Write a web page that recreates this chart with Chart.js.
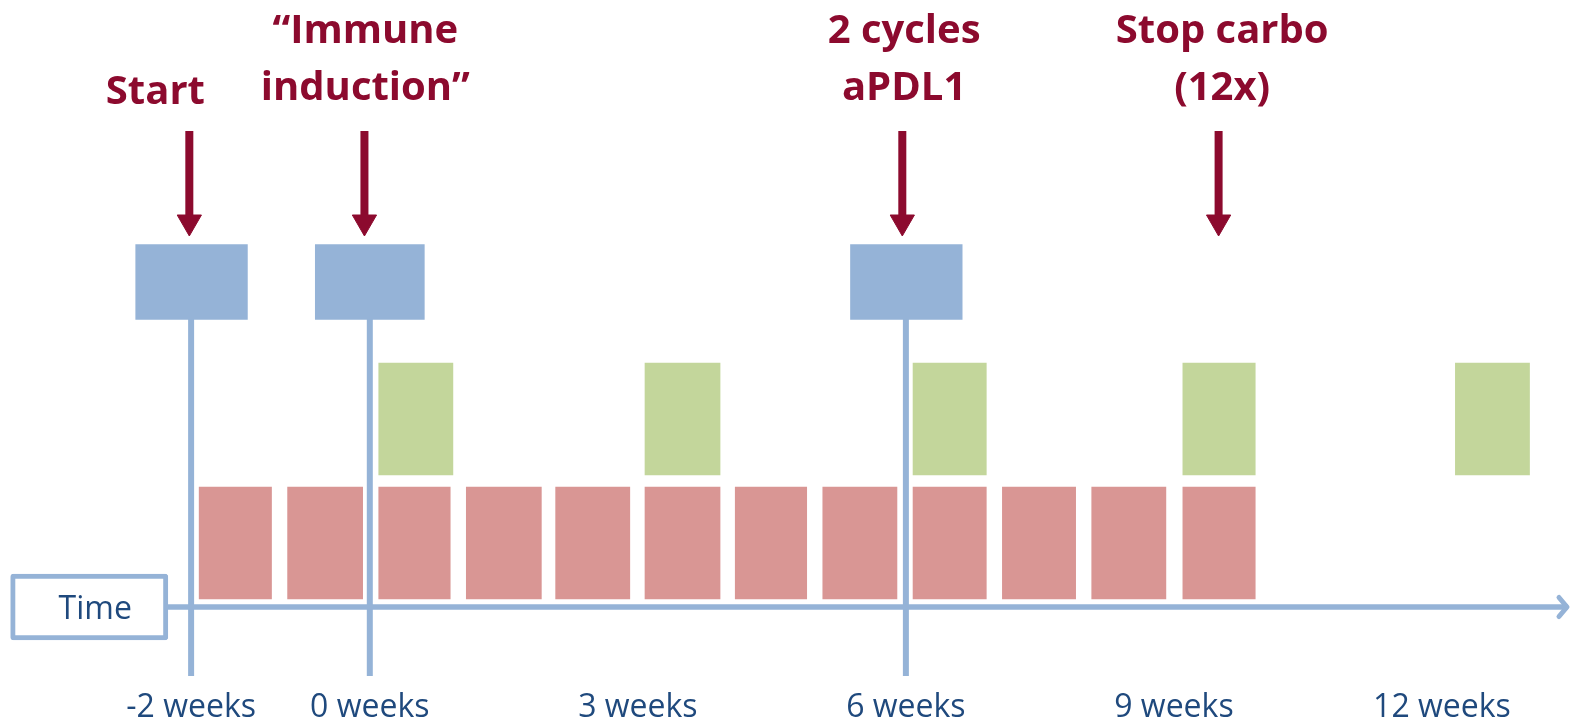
<!DOCTYPE html>
<html>
<head>
<meta charset="utf-8">
<title>Treatment timeline</title>
<script src="https://cdn.jsdelivr.net/npm/chart.js@4.4.1/dist/chart.umd.min.js"></script>
<style>
  html, body { margin: 0; padding: 0; background: #fff; }
  #wrap { width: 1570px; height: 721px; position: relative; }
</style>
</head>
<body>
<div id="wrap"><canvas id="timelineChart"></canvas></div>
<script>
// ==================== data ====================

// x axis ticks (weeks)
const tickWeeks = [-2, 0, 3, 6, 9, 12];
const tickLabels = ['-2 weeks', '0 weeks', '3 weeks', '6 weeks', '9 weeks', '12 weeks'];

// blue blocks (top row)
const phaseStart = [-2.62, -0.61, 5.38];
const phaseEnd = [-1.37, 0.61, 6.63];

// green blocks (middle row)
const pdl1Start = [0.10, 3.08, 6.08, 9.10, 12.15];
const pdl1End = [0.93, 3.92, 6.90, 9.91, 12.98];

// red blocks (bottom row, 12x)
const carboStart = [-1.91, -0.92, 0.10, 1.08, 2.08, 3.08, 4.09, 5.07, 6.08, 7.08, 8.08, 9.10];
const carboEnd = [-1.10, -0.08, 0.90, 1.92, 2.91, 3.92, 4.89, 5.90, 6.90, 7.90, 8.91, 9.91];

// vertical marker lines
const markerWeeks = [-2, 0, 6];

// event arrows and their labels
const eventWeeks = [-2.02, -0.06, 5.96, 9.50];
const eventLabelWeeks = [-2.40, -0.05, 5.98, 9.54];
const eventLabels = [['Start'], ['\u201CImmune', 'induction\u201D'], ['2 cycles', 'aPDL1'], ['Stop carbo', '(12x)']];

// time axis
const axisLabel = 'Time';
const timeBox = [-4.02, -2.26];
const axisEnd = 13.41;

// ==================== style ====================

const colors = {
  phase: '#95b3d7',
  pdl1: '#c3d69b',
  carbo: '#d99694',
  line: '#95b3d7',
  event: '#8c0a2e',
  text: '#1f497d'
};

// vertical layout in y units (0 = time axis)
const level = {
  carbo: 0.64,
  pdl1: 1.88,
  phase: 3.25,
  markerBottom: -0.69,
  markerTop: 2.88,
  arrowTop: 4.76,
  arrowHead: 3.85,
  line1: 5.64,
  line2: 5.07,
  single: 5.03,
  tick: -1.10,
  timeText: -0.12
};

// open arrow head for the time axis
function makeChevron() {
  const c = document.createElement('canvas');
  c.width = 30;
  c.height = 30;
  const g = c.getContext('2d');
  g.strokeStyle = colors.line;
  g.lineWidth = 5;
  g.lineCap = 'round';
  g.lineJoin = 'round';
  g.beginPath();
  g.moveTo(6, 5.5);
  g.lineTo(14, 15);
  g.lineTo(6, 24.5);
  g.stroke();
  return c;
}

// texts: event labels, tick labels, "Time"
const textPlugin = {
  id: 'timelineText',
  afterDatasetsDraw(chart) {
    const { ctx, scales: { x, y } } = chart;
    ctx.save();
    ctx.textAlign = 'center';
    ctx.textBaseline = 'alphabetic';

    ctx.fillStyle = colors.event;
    ctx.font = 'bold 40px "Open Sans"';
    eventLabels.forEach((lines, i) => {
      const px = x.getPixelForValue(eventLabelWeeks[i]);
      const rows = lines.length === 1 ? [level.single] : [level.line1, level.line2];
      lines.forEach((t, j) => ctx.fillText(t, px, y.getPixelForValue(rows[j])));
    });

    ctx.fillStyle = colors.text;
    ctx.font = '32px "Open Sans"';
    tickWeeks.forEach((w, i) => {
      ctx.fillText(tickLabels[i], x.getPixelForValue(w), y.getPixelForValue(level.tick));
    });
    const boxMid = x.getPixelForValue((timeBox[0] + timeBox[1]) / 2);
    ctx.fillText(axisLabel, boxMid + 6, y.getPixelForValue(level.timeText));
    ctx.restore();
  }
};

// ==================== chart ====================

const blocks = (starts, ends, row) => starts.map((s, i) => ({ x: [s, ends[i]], y: row }));

const datasets = [
  {
    type: 'bar',
    label: 'Time box',
    indexAxis: 'y',
    data: [{ x: timeBox, y: 0 }],
    backgroundColor: '#ffffff',
    borderColor: colors.line,
    borderWidth: 5,
    borderSkipped: false,
    borderRadius: 3,
    barThickness: 66
  },
  {
    type: 'bar',
    label: 'phase',
    indexAxis: 'y',
    data: blocks(phaseStart, phaseEnd, level.phase),
    backgroundColor: colors.phase,
    barThickness: 75
  },
  {
    type: 'bar',
    label: 'aPDL1',
    indexAxis: 'y',
    data: blocks(pdl1Start, pdl1End, level.pdl1),
    backgroundColor: colors.pdl1,
    barThickness: 112
  },
  {
    type: 'bar',
    label: 'carbo',
    indexAxis: 'y',
    data: blocks(carboStart, carboEnd, level.carbo),
    backgroundColor: colors.carbo,
    barThickness: 112
  },
  {
    type: 'line',
    label: 'axis',
    data: [{ x: timeBox[1], y: 0 }, { x: axisEnd, y: 0 }],
    borderColor: colors.line,
    borderWidth: 5.5,
    pointRadius: [0, 1],
    pointStyle: ['circle', makeChevron()]
  },
  ...markerWeeks.map(w => ({
    type: 'line',
    label: 'marker',
    data: [{ x: w, y: level.markerBottom }, { x: w, y: level.markerTop }],
    borderColor: colors.line,
    borderWidth: 6,
    pointRadius: 0
  })),
  ...eventWeeks.map(w => ({
    type: 'line',
    label: 'event',
    data: [{ x: w, y: level.arrowTop }, { x: w, y: level.arrowHead }],
    borderColor: colors.event,
    borderWidth: 8,
    pointRadius: [0, 14],
    pointStyle: 'triangle',
    pointRotation: 180,
    pointBackgroundColor: colors.event,
    pointBorderColor: colors.event,
    pointBorderWidth: 1
  }))
];

const chart = new Chart(document.getElementById('timelineChart'), {
  type: 'bar',
  data: { datasets },
  options: {
    responsive: true,
    maintainAspectRatio: false,
    animation: false,
    events: [],
    layout: { padding: 0, autoPadding: false },
    datasets: { bar: { grouped: false } },
    plugins: {
      legend: { display: false },
      tooltip: { enabled: false }
    },
    scales: {
      x: { type: 'linear', min: -4.139, max: 13.433, offset: false, display: false },
      y: { type: 'linear', min: -1.14, max: 6.07, offset: false, display: false }
    }
  },
  plugins: [textPlugin]
});
</script>
</body>
</html>
